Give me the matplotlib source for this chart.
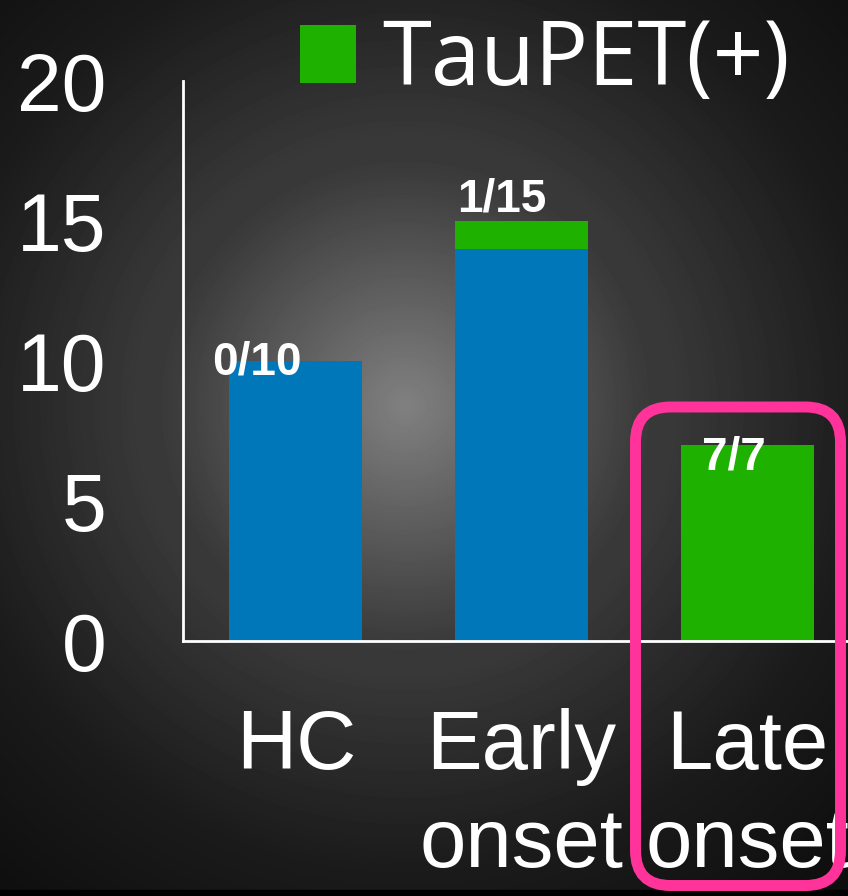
import numpy as np
import matplotlib
matplotlib.use('Agg')
import matplotlib.pyplot as plt
from matplotlib.patches import FancyBboxPatch, Rectangle
from matplotlib.transforms import IdentityTransform

# data
groups = ['HC', 'Early\nonset', 'Late\nonset']
tau_neg = [10, 14, 0]   # TauPET(-) count (blue)
tau_pos = [0, 1, 7]     # TauPET(+) count (green)
yticks = [0, 5, 10, 15, 20]

blue = '#0077b8'
green = '#1eb100'
pink = '#ff3399'

W, H, DPI = 848, 896, 100
fig = plt.figure(figsize=(W / DPI, H / DPI), dpi=DPI)

# radial grey background
bg = fig.add_axes([0, 0, 1, 1], zorder=-5)
yy, xx = np.mgrid[0:H, 0:W]
r = np.hypot(xx - 405, yy - 405)
shade = np.interp(r, [0, 30, 110, 240, 270, 465, 640], [128, 120, 96, 58, 56, 27, 14]) / 255
bg.imshow(shade, cmap='gray', vmin=0, vmax=1, extent=[0, W, H, 0], aspect='auto', interpolation='bilinear')
bg.add_patch(Rectangle((0, 890), W, 6, color='black'))
bg.set_xlim(0, W)
bg.set_ylim(H, 0)
bg.axis('off')

ax = fig.add_axes([183 / W, 1 - 641 / H, 1 - 183 / W, (641 - 81) / H])
ax.patch.set_alpha(0)

x = np.arange(len(groups))
ax.bar(x, tau_neg, width=0.59, color=blue)
bars_pos = ax.bar(x, tau_pos, width=0.59, bottom=tau_neg, color=green, label='TauPET(+)')

ax.set_xlim(-0.5, 2.447)
ax.set_ylim(0, 20)

# n positive / n total labels
offsets = [(-28.4, -10), (-14, 6.5), (-9.4, -17.3)]
for i in range(len(groups)):
    total = tau_neg[i] + tau_pos[i]
    ax.annotate(f'{tau_pos[i]}/{total}', (x[i], total), textcoords='offset points',
                xytext=offsets[i], ha='center', va='baseline', color='white',
                fontsize=33, fontweight='bold', family='Liberation Sans')

for s in ['top', 'right']:
    ax.spines[s].set_visible(False)
for s in ['left', 'bottom']:
    ax.spines[s].set_color('white')
    ax.spines[s].set_linewidth(2)

ax.set_yticks(yticks)
ax.set_xticks(x)
ax.set_xticklabels(groups, linespacing=1.34)
ax.tick_params(axis='y', length=0, pad=55, labelsize=58, labelcolor='white')
ax.tick_params(axis='x', length=0, pad=48, labelsize=60, labelcolor='white')
for lab in ax.get_xticklabels() + ax.get_yticklabels():
    lab.set_family('Liberation Sans')

leg = ax.legend(handles=[bars_pos], loc='center left', bbox_to_anchor=(300 / W, 1 - 62 / H),
                bbox_transform=fig.transFigure, frameon=False, borderpad=0, borderaxespad=0,
                handlelength=0.63, handleheight=0.63, handletextpad=0.3,
                prop={'family': 'Open Sans', 'size': 64})
for t in leg.get_texts():
    t.set_color('white')

# highlight box around late onset
box = FancyBboxPatch((635.5, H - 885.5), 205, 478.5, boxstyle='round,pad=0,rounding_size=35',
                     transform=IdentityTransform(), fill=False, edgecolor=pink, linewidth=7.9,
                     zorder=10)
fig.patches.append(box)

fig.savefig('out.png', dpi=DPI)
